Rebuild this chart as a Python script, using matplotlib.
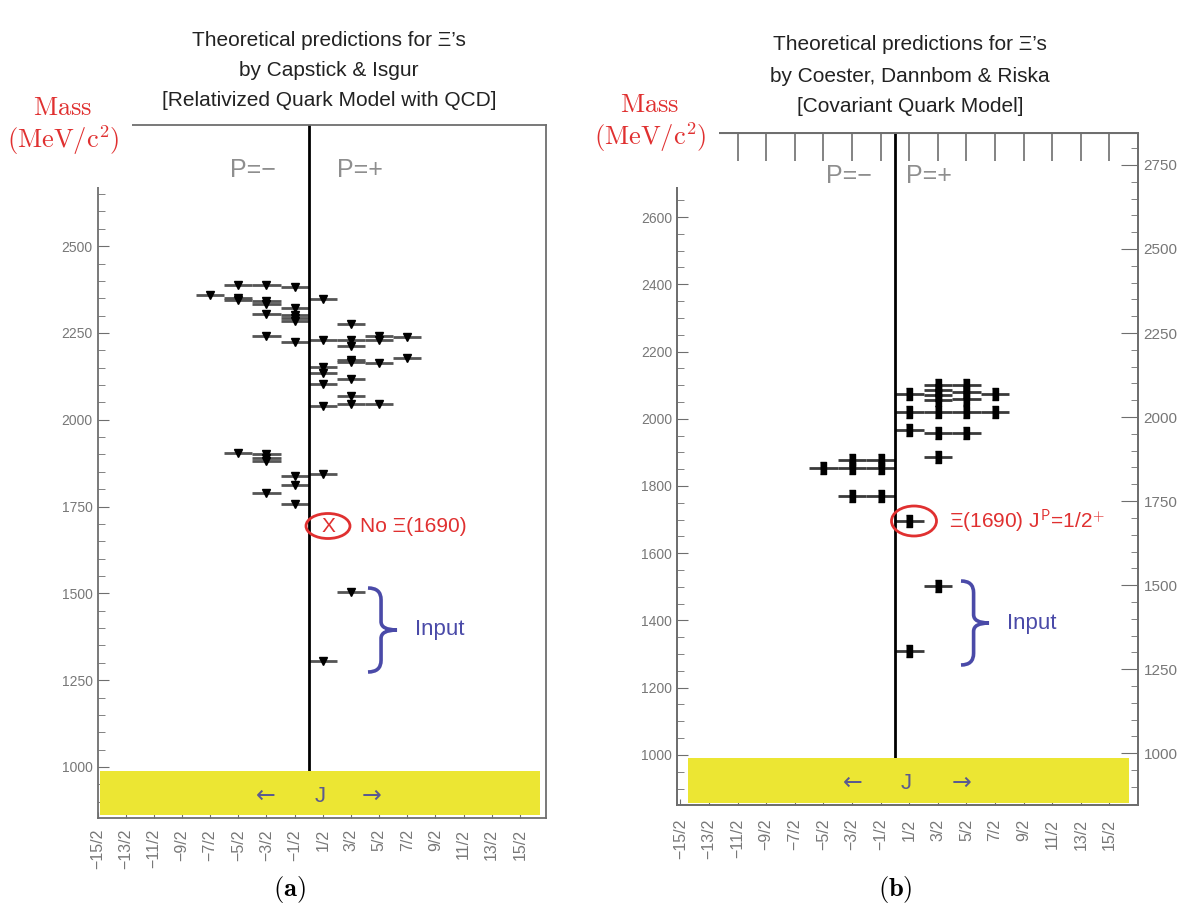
import matplotlib
matplotlib.use("Agg")
import matplotlib.pyplot as plt
from matplotlib.patches import Ellipse, Rectangle, PathPatch
from matplotlib.path import Path
from matplotlib.ticker import MultipleLocator, FixedLocator
import numpy as np

plt.rcParams["mathtext.fontset"] = "cm"

W, H = 1187, 905

# (a) Capstick & Isgur: signed J (negative = P=-) and mass in MeV
a_j = [-2.5, -1.5, -0.5, -3.5, -2.5, -2.5, 0.5, -1.5, -1.5, -0.5, -1.5,
       -0.5, -0.5, -0.5, 1.5, -1.5, -0.5, 0.5, 1.5, 1.5, 2.5, 2.5, 3.5,
       3.5, 1.5, 1.5, 2.5, 0.5, 0.5, 0.5, 1.5, 1.5, 1.5, 0.5, 2.5,
       -2.5, -1.5, -1.5, -1.5, -0.5, 0.5, -0.5, -1.5, -0.5, 1.5, 0.5]
a_mass = [2387, 2387, 2382, 2358, 2352, 2345, 2347, 2342, 2332, 2322, 2305,
          2303, 2294, 2284, 2276, 2240, 2225, 2230, 2231, 2212, 2241, 2229, 2239,
          2179, 2171, 2166, 2164, 2152, 2135, 2102, 2116, 2068, 2046, 2041, 2044,
          1905, 1900, 1891, 1881, 1838, 1843, 1812, 1788, 1757, 1504, 1306]

# (b) Coester, Dannbom & Riska
b_j = [0.5, 1.5, 1.5, 1.5, 1.5, 2.5, 2.5, 2.5, 3.5,
       0.5, 1.5, 2.5, 3.5, 0.5, 1.5, 2.5, 1.5,
       -2.5, -1.5, -1.5, -0.5, -0.5, -1.5, -0.5, 0.5, 1.5, 0.5]
b_mass = [2075, 2100, 2085, 2070, 2055, 2100, 2080, 2058, 2075,
          2020, 2020, 2020, 2020, 1967, 1957, 1957, 1887,
          1853, 1878, 1853, 1878, 1853, 1770, 1770, 1696, 1501, 1308]

j_ticks = [-7.5, -6.5, -5.5, -4.5, -3.5, -2.5, -1.5, -0.5,
           0.5, 1.5, 2.5, 3.5, 4.5, 5.5, 6.5, 7.5]
j_labels = ["−15/2", "−13/2", "−11/2", "−9/2", "−7/2", "−5/2", "−3/2", "−1/2",
            "1/2", "3/2", "5/2", "7/2", "9/2", "11/2", "13/2", "15/2"]

a_mass_ticks = [1000, 1250, 1500, 1750, 2000, 2250, 2500]
b_mass_ticks = [1000, 1200, 1400, 1600, 1800, 2000, 2200, 2400, 2600]
b_right_ticks = [1000, 1250, 1500, 1750, 2000, 2250, 2500, 2750]

sans = ["Liberation Sans", "DejaVu Sans"]
axis_col = "#6e6e6e"
red = "#e03030"
blue = "#4a4aa8"
yellow = "#ece633"


def rect(x0, y0, x1, y1):
    return [x0 / W, 1 - y1 / H, (x1 - x0) / W, (y1 - y0) / H]


def px(x, y):
    return x / W, 1 - y / H


def brace(fig, x0, ytop, ybot, w):
    ym = (ytop + ybot) / 2
    h = ybot - ytop
    xm = x0 + w * 0.45
    pts = [(x0, ytop), (xm, ytop), (xm, ytop + h * 0.14),
           (xm, ym - h * 0.1), (xm, ym), (x0 + w, ym),
           (xm, ym), (xm, ym + h * 0.1),
           (xm, ybot - h * 0.14), (xm, ybot), (x0, ybot)]
    codes = [Path.MOVETO, Path.CURVE3, Path.CURVE3,
             Path.LINETO, Path.CURVE3, Path.CURVE3,
             Path.CURVE3, Path.CURVE3,
             Path.LINETO, Path.CURVE3, Path.CURVE3]
    pts = [px(x, y) for x, y in pts]
    fig.add_artist(PathPatch(Path(pts, codes), fill=False, ec=blue, lw=2.6,
                             transform=fig.transFigure, zorder=6))


def style_panel(ax, band, pad):
    for s in ax.spines.values():
        s.set_color(axis_col)
        s.set_linewidth(1.3)
    ax.set_xticks(j_ticks)
    ax.set_xticklabels(j_labels, rotation=90, color="#777", fontsize=11.5,
                       family=sans)
    ax.tick_params(axis="x", direction="in", length=4, color=axis_col, pad=pad)
    ax.tick_params(axis="y", which="both", direction="in", color=axis_col,
                   labelcolor="#777", labelsize=10)
    ax.tick_params(axis="y", which="major", length=8)
    ax.tick_params(axis="y", which="minor", length=5)
    for t in ax.get_yticklabels():
        t.set_family(sans)
    x0, x1, y0, y1 = band
    ax.add_patch(Rectangle((x0, y0), x1 - x0, y1 - y0, transform=ax.transAxes,
                           fc=yellow, ec="none", zorder=3))
    ax.axvline(0, ymin=y1, color="black", lw=2, zorder=2)


fig = plt.figure(figsize=(W / 100, H / 100), dpi=100)
fig.patch.set_facecolor("white")

# ---------- panel (a)
ax1 = fig.add_axes(rect(97.6, 125, 546, 818))
ax1.hlines(a_mass, np.array(a_j) - 0.5, np.array(a_j) + 0.5, color="#555555", lw=2)
ax1.plot(a_j, a_mass, "v", color="black", ms=6, ls="none")
ax1.set_xlim(-7.42, 8.43)
ax1.set_ylim(853, 2849)
ax1.yaxis.set_major_locator(FixedLocator(a_mass_ticks))
ax1.yaxis.set_minor_locator(MultipleLocator(50))
style_panel(ax1, (0.005, 0.987, 0.004, 0.068), 8)

# ---------- panel (b)
ax2 = fig.add_axes(rect(677, 133, 1138, 805))
ax2.hlines(b_mass, np.array(b_j) - 0.5, np.array(b_j) + 0.5, color="#3a3a3a", lw=2)
ax2.plot(b_j, b_mass, ls="none", color="black", ms=9,
         marker=[(-0.55, -1), (0.55, -1), (0.55, 1), (-0.55, 1)])
ax2.set_xlim(-7.62, 8.50)
ax2.set_ylim(851, 2850)
ax2.yaxis.set_major_locator(FixedLocator(b_mass_ticks))
ax2.yaxis.set_minor_locator(MultipleLocator(50))
style_panel(ax2, (0.024, 0.980, 0.003, 0.070), 10)

top = ax2.secondary_xaxis("top")
top.set_xticks(j_ticks)
top.tick_params(direction="in", length=20, color=axis_col, width=1.2,
                labeltop=False)
top.spines["top"].set_color(axis_col)

ax2r = ax2.twinx()
ax2r.set_ylim(846, 2845)
ax2r.yaxis.set_major_locator(FixedLocator(b_right_ticks))
ax2r.yaxis.set_minor_locator(MultipleLocator(50))
ax2r.tick_params(axis="y", which="both", direction="in", color=axis_col,
                 labelcolor="#777", labelsize=11, pad=4)
ax2r.tick_params(axis="y", which="major", length=12)
ax2r.tick_params(axis="y", which="minor", length=5)
for t in ax2r.get_yticklabels():
    t.set_family(sans)
for s in ax2r.spines.values():
    s.set_color(axis_col)
    s.set_linewidth(1.3)

# ---------- white boxes and mass labels
for x0, x1, y1 in [(0, 132, 187), (588, 719, 187)]:
    fig.add_artist(Rectangle(px(x0, y1), (x1 - x0) / W, (y1 - 85) / H,
                             transform=fig.transFigure, fc="white", ec="none",
                             zorder=5))
for cx, y0 in [(63, 108), (650, 105)]:
    fig.text(*px(cx, y0), r"$\mathrm{Mass}$", color=red, fontsize=19,
             ha="center", va="center", zorder=7)
    fig.text(*px(cx, y0 + 32), r"$\mathrm{(MeV/c^2)}$", color=red, fontsize=19,
             ha="center", va="center", zorder=7)

# ---------- titles
titles = [(329, ["Theoretical predictions for Ξ’s", "by Capstick & Isgur",
                 "[Relativized Quark Model with QCD]"], [40, 71, 100]),
          (910, ["Theoretical predictions for Ξ’s", "by Coester, Dannbom & Riska",
                 "[Covariant Quark Model]"], [45, 76, 106])]
for cx, lines, ys in titles:
    for line, y in zip(lines, ys):
        fig.text(*px(cx, y), line, fontsize=15, family=sans, color="#222",
                 ha="center", va="center")

# ---------- parity labels
for x, y, s in [(253, 170, "P=−"), (360, 170, "P=+"),
                (849, 176, "P=−"), (929, 176, "P=+")]:
    fig.text(*px(x, y), s, fontsize=18, color="#8e8e8e", ha="center",
             va="center", family=sans, zorder=7)

# ---------- J arrows in the yellow band
for xl, xj, xr, y in [(266, 320, 372, 796), (853, 906, 962, 783)]:
    fig.text(*px(xl, y), "←", fontsize=17, color="#5a5a90", ha="center",
             va="center", zorder=7)
    fig.text(*px(xj, y), "J", fontsize=16, color="#5a5a90", ha="center",
             va="center", family=sans, zorder=7)
    fig.text(*px(xr, y), "→", fontsize=17, color="#5a5a90", ha="center",
             va="center", zorder=7)

# ---------- annotations
fig.add_artist(Ellipse(px(328, 526), 44 / W, 25 / H, transform=fig.transFigure,
                       fill=False, ec=red, lw=2, zorder=7))
fig.text(*px(328, 527), "X", fontsize=15, color=red, ha="center", va="center",
         family=sans, zorder=7)
fig.text(*px(360, 526), "No Ξ(1690)", fontsize=15, color=red, ha="left",
         va="center", family=sans, zorder=7)

fig.add_artist(Ellipse(px(914, 521), 45 / W, 30 / H, transform=fig.transFigure,
                       fill=False, ec=red, lw=2, zorder=7))
fig.text(*px(949, 521), r"Ξ(1690) J$^{\mathsf{P}}$=1/2$^{\mathsf{+}}$", fontsize=15,
         color=red, ha="left", va="center", family=sans, zorder=7)

brace(fig, 368, 588, 672, 29)
fig.text(*px(440, 630), "Input", fontsize=16, color=blue, ha="center",
         va="center", family=sans, zorder=7)
brace(fig, 961, 581, 665, 28)
fig.text(*px(1032, 624), "Input", fontsize=16, color=blue, ha="center",
         va="center", family=sans, zorder=7)

fig.text(*px(289, 889), r"$\mathbf{(a)}$", fontsize=19, ha="center", va="center")
fig.text(*px(895, 889), r"$\mathbf{(b)}$", fontsize=19, ha="center", va="center")

fig.savefig("out.png", dpi=100)
